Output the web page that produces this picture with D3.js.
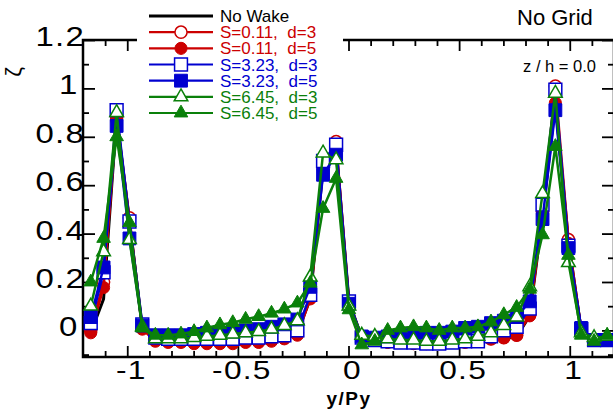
<!DOCTYPE html>
<html>
<head>
<script src="https://d3js.org/d3.v7.min.js"></script>
<style>
  body { margin: 0; background: #fff; }
  text { font-family: "Liberation Sans", Arial, sans-serif; }
</style>
</head>
<body>
<svg id="chart"></svg>
<script>
// measurement stations y/Py
const yPy = [-1.165, -1.107, -1.048, -0.990, -0.932, -0.873, -0.815, -0.757, -0.698, -0.640,
  -0.581, -0.523, -0.465, -0.406, -0.348, -0.290, -0.231, -0.173, -0.115, -0.056,
  0.002, 0.060, 0.119, 0.177, 0.235, 0.294, 0.352, 0.410, 0.469, 0.527,
  0.585, 0.644, 0.702, 0.760, 0.819, 0.877, 0.935, 0.994, 1.052, 1.110, 1.169];

const noWake = [-0.01, 0.13, 0.88, 0.45, 0.01,
  -0.04, -0.045, -0.045, -0.045, -0.045, -0.045, -0.045, -0.04, -0.04, -0.035, -0.025, -0.01,
  0.13, 0.67, 0.76, 0.12, -0.03, -0.04,
  -0.045, -0.05, -0.05, -0.05, -0.05, -0.05, -0.045,
  -0.045, -0.04, -0.035, -0.025, 0.06, 0.47, 0.94, 0.37, 0.0, -0.04, -0.04];

const s011d3 = [0.0, 0.2, 0.88, 0.465, 0.01,
  -0.04, -0.045, -0.045, -0.045, -0.045, -0.045, -0.045, -0.04, -0.04, -0.035, -0.025, -0.01,
  0.14, 0.68, 0.78, 0.12, -0.03, -0.04,
  -0.045, -0.045, -0.05, -0.05, -0.05, -0.045, -0.045,
  -0.04, -0.035, -0.03, -0.02, 0.065, 0.49, 1.01, 0.375, 0.005, -0.04, -0.04];

const s011d5 = [-0.01, 0.177, 0.87, 0.45, 0.005,
  -0.045, -0.05, -0.05, -0.055, -0.055, -0.055, -0.055, -0.05, -0.05, -0.045, -0.035, -0.02,
  0.13, 0.67, 0.75, 0.115, -0.03, -0.04,
  -0.05, -0.05, -0.055, -0.055, -0.055, -0.05, -0.05,
  -0.045, -0.035, -0.03, -0.02, 0.06, 0.48, 0.94, 0.36, 0.0, -0.04, -0.04];

const s323d3 = [0.03, 0.24, 0.91, 0.45, 0.025,
  -0.03, -0.035, -0.035, -0.035, -0.035, -0.035, -0.035, -0.03, -0.03, -0.025, -0.02, 0.0,
  0.147, 0.70, 0.767, 0.12, -0.03, -0.04,
  -0.045, -0.05, -0.05, -0.055, -0.055, -0.05, -0.045,
  -0.045, -0.025, 0.0, 0.015, 0.09, 0.52, 0.995, 0.35, 0.005, -0.04, -0.04];

const s323d5 = [0.055, 0.26, 0.845, 0.38, 0.02,
  -0.02, -0.02, -0.02, -0.015, -0.01, -0.01, -0.005, 0.0, 0.005, 0.015, 0.025, 0.045,
  0.18, 0.643, 0.726, 0.11, -0.025, -0.03,
  -0.025, -0.02, -0.015, -0.01, -0.01, -0.005, 0.01,
  0.015, 0.03, 0.04, 0.055, 0.12, 0.46, 0.91, 0.34, 0.01, -0.04, -0.04];

const s645d3 = [0.1, 0.325, 0.90, 0.375, 0.015,
  -0.035, -0.035, -0.035, -0.03, -0.025, -0.02, -0.015, -0.01, -0.005, 0.005, 0.02, 0.04,
  0.22, 0.733, 0.705, 0.1, -0.02, -0.025,
  -0.035, -0.04, -0.04, -0.045, -0.045, -0.04, -0.035,
  -0.025, -0.01, 0.02, 0.055, 0.18, 0.565, 0.98, 0.28, -0.01, -0.03, -0.025];

const s645d5 = [0.2, 0.38, 0.80, 0.445, 0.01,
  -0.02, -0.02, -0.015, -0.005, 0.01, 0.023, 0.032, 0.046, 0.057, 0.071, 0.088, 0.113,
  0.195, 0.504, 0.628, 0.085, -0.06, -0.045,
  0.0, 0.01, 0.015, 0.01, 0.0, 0.01, 0.01,
  0.015, 0.035, 0.065, 0.095, 0.17, 0.395, 0.76, 0.31, -0.02, -0.045, -0.02];

const seriesNames = ["No Wake", "S=0.11,  d=3", "S=0.11,  d=5", "S=3.23,  d=3", "S=3.23,  d=5", "S=6.45,  d=3", "S=6.45,  d=5"];
const seriesValues = [noWake, s011d3, s011d5, s323d3, s323d5, s645d3, s645d5];

const xTicks = [-1, -0.5, 0, 0.5, 1];
const xTickLabels = ["-1", "-0.5", "0", "0.5", "1"];
const yTicks = [0, 0.2, 0.4, 0.6, 0.8, 1, 1.2];
const yTickLabels = ["0", "0.2", "0.4", "0.6", "0.8", "1", "1.2"];

// styling per series
const colors = ["#000000", "#cc0000", "#cc0000", "#0000d0", "#0000d0", "#0a800a", "#0a800a"];
const shapes = [null, d3.symbolCircle, d3.symbolCircle, d3.symbolSquare, d3.symbolSquare, d3.symbolTriangle, d3.symbolTriangle];
const filled = [false, false, true, false, true, false, true];
const sizes = [0, 115, 115, 165, 165, 80, 80];

const width = 613, height = 415;
const svg = d3.select("#chart").attr("width", width).attr("height", height);

const x = d3.scaleLinear().domain([-1.2, 1.2]).range([83, 614]);
const y = d3.scaleLinear().domain([-0.11, 1.2]).range([357, 40]);

svg.append("defs").append("clipPath").attr("id", "plot")
  .append("rect").attr("x", 83).attr("y", 40).attr("width", 531).attr("height", 317);

// ticks (inward)
const xMinor = d3.range(-11, 12).map(d => d / 10).filter(d => Math.abs(d * 2 - Math.round(d * 2)) > 1e-6);
const yMinor = d3.range(-1, 12).map(d => d / 10).filter(d => Math.abs(d * 5 - Math.round(d * 5)) > 1e-6);

function tickAxis(axis, values, size, transform) {
  const g = svg.append("g").attr("transform", transform)
    .call(axis.tickValues(values).tickSize(size).tickFormat(""));
  g.select(".domain").remove();
  g.selectAll("line").attr("stroke", "#000").attr("stroke-width", 1.8);
}
tickAxis(d3.axisBottom(x), xTicks, -11, "translate(0,357)");
tickAxis(d3.axisBottom(x), xMinor, -6, "translate(0,357)");
tickAxis(d3.axisTop(x), xTicks, -11, "translate(0,40)");
tickAxis(d3.axisTop(x), xMinor, -6, "translate(0,40)");
tickAxis(d3.axisLeft(y), yTicks, -12, "translate(83,0)");
tickAxis(d3.axisLeft(y), yMinor, -6, "translate(83,0)");
tickAxis(d3.axisRight(y), yTicks, -12, "translate(614,0)");
tickAxis(d3.axisRight(y), yMinor, -6, "translate(614,0)");

svg.append("rect").attr("x", 83).attr("y", 40).attr("width", 531).attr("height", 317)
  .attr("fill", "none").attr("stroke", "#000").attr("stroke-width", 2.5);

// data
const plot = svg.append("g").attr("clip-path", "url(#plot)");
const line = d3.line().x((d, i) => x(yPy[i])).y(d => y(d));

seriesValues.forEach((vals, k) => {
  plot.append("path").datum(vals)
    .attr("d", line)
    .attr("fill", "none")
    .attr("stroke", colors[k])
    .attr("stroke-width", k === 0 ? 3 : 2.5)
    .attr("stroke-linejoin", "round");
  if (shapes[k]) {
    plot.selectAll(null).data(vals).enter().append("path")
      .attr("transform", (d, i) => `translate(${x(yPy[i])},${y(d)})`)
      .attr("d", d3.symbol().type(shapes[k]).size(sizes[k]))
      .attr("fill", filled[k] ? colors[k] : "#fff")
      .attr("stroke", colors[k])
      .attr("stroke-width", filled[k] ? 1 : 1.5);
  }
});

// tick labels
svg.selectAll(".xl").data(xTicks).enter().append("g")
  .attr("transform", d => `translate(${x(d) + 4},379)`)
  .append("text")
  .attr("transform", "scale(1.22,1)")
  .attr("text-anchor", "middle")
  .attr("font-size", 26)
  .attr("letter-spacing", 1)
  .text((d, i) => xTickLabels[i]);

svg.selectAll(".yl").data(yTicks).enter().append("g")
  .attr("transform", (d, i) => `translate(${yTickLabels[i].length > 1 ? 85 : 78.5},${y(d) + 6})`)
  .append("text")
  .attr("transform", "scale(1.22,1)")
  .attr("text-anchor", "end")
  .attr("font-size", 27)
  .attr("letter-spacing", 1)
  .text((d, i) => yTickLabels[i]);

// axis titles
svg.append("text").attr("x", 349).attr("y", 405).attr("text-anchor", "middle")
  .attr("font-size", 19).attr("font-weight", "bold").attr("letter-spacing", 1.5).text("y/Py");
svg.append("text").attr("transform", "translate(21,72) rotate(-90)").attr("text-anchor", "middle")
  .attr("font-size", 22).text("ζ");

svg.append("text").attr("x", 517).attr("y", 24.5).attr("font-size", 22).text("No Grid");
svg.append("text").attr("x", 596).attr("y", 72).attr("text-anchor", "end").attr("font-size", 16.5).text("z / h = 0.0");

// legend
const legend = svg.append("g");
legend.append("rect").attr("x", 137).attr("y", 0).attr("width", 206).attr("height", 122).attr("fill", "#fff");
const rowY = d3.scaleLinear().domain([0, 6]).range([16, 113]);
seriesNames.forEach((name, k) => {
  const ly = rowY(k);
  legend.append("line").attr("x1", 149).attr("x2", 213).attr("y1", ly).attr("y2", ly)
    .attr("stroke", colors[k]).attr("stroke-width", k === 0 ? 3 : 2.2);
  if (shapes[k]) {
    legend.append("path").attr("transform", `translate(181,${ly})`)
      .attr("d", d3.symbol().type(shapes[k]).size(sizes[k]))
      .attr("fill", filled[k] ? colors[k] : "#fff")
      .attr("stroke", colors[k]).attr("stroke-width", filled[k] ? 1 : 1.5);
  }
  legend.append("text").attr("x", 220).attr("y", ly + 6).attr("font-size", 17)
    .attr("fill", colors[k]).attr("xml:space", "preserve").style("white-space", "pre")
    .text(name);
});
</script>
</body>
</html>
